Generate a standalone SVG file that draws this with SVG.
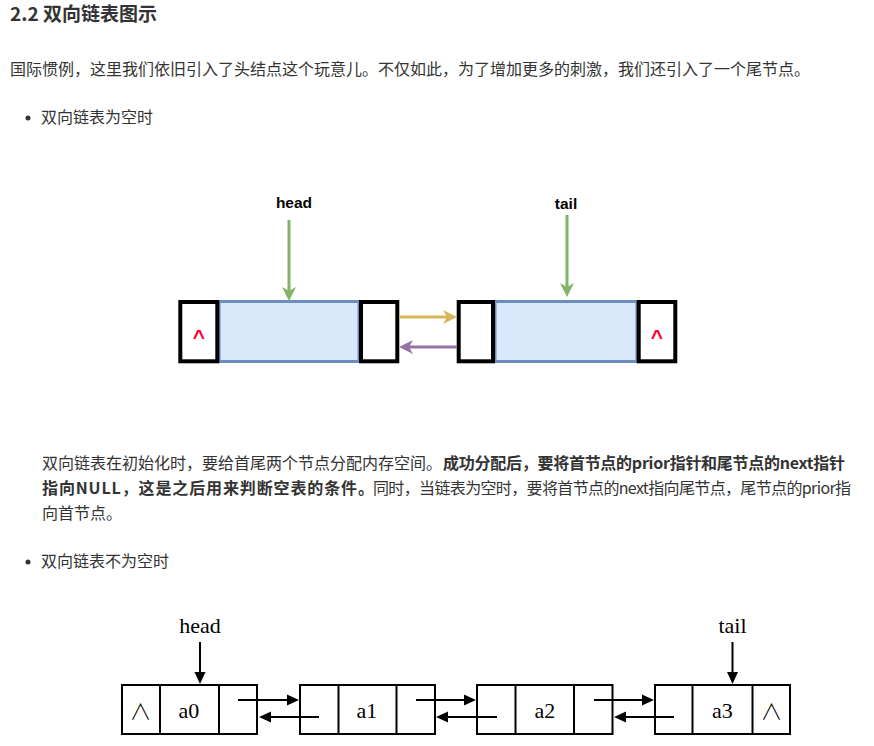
<svg xmlns="http://www.w3.org/2000/svg" width="874" height="746" viewBox="0 0 874 746">
<style>
.t{font-family:"Noto Sans CJK SC","Microsoft YaHei",sans-serif;font-size:16px;fill:#333}
.b{font-weight:bold}
.lbl{font-family:"Liberation Sans",Arial,sans-serif;font-weight:bold;font-size:15.5px;fill:#000;text-anchor:middle}
.caret{font-family:"Liberation Sans",Arial,sans-serif;font-weight:bold;font-size:21px;fill:#ff0033;text-anchor:middle}
.box{fill:#fff;stroke:#000;stroke-width:4}
.mid{fill:#dae8fc;stroke:#6c8ebf;stroke-width:3}
.n2{fill:#fff;stroke:#000;stroke-width:2}
.dv{stroke:#000;stroke-width:2}
.ser{font-family:"Liberation Serif","Times New Roman",serif;font-size:22px;fill:#000;text-anchor:middle}
.and{font-family:"Noto Sans CJK SC",serif;font-weight:300;font-size:22px;fill:#000;text-anchor:middle}
.bk{stroke:#000;stroke-width:2;fill:none}
</style>
<defs>
<marker id="mg" markerUnits="userSpaceOnUse" viewBox="0 0 14 14" markerWidth="14" markerHeight="14" refX="4" refY="7" orient="auto"><path d="M0,0 L14,7 L0,14 L4,7 z" fill="#82b366"/></marker>
<marker id="my" markerUnits="userSpaceOnUse" viewBox="0 0 14 14" markerWidth="14" markerHeight="14" refX="4" refY="7" orient="auto"><path d="M0,0 L14,7 L0,14 L4,7 z" fill="#d6b656"/></marker>
<marker id="mp" markerUnits="userSpaceOnUse" viewBox="0 0 14 14" markerWidth="14" markerHeight="14" refX="4" refY="7" orient="auto"><path d="M0,0 L14,7 L0,14 L4,7 z" fill="#9673a6"/></marker>
<marker id="mb" markerUnits="userSpaceOnUse" viewBox="0 0 12 12" markerWidth="12" markerHeight="12" refX="0" refY="6" orient="auto"><path d="M0,0.5 L12,6 L0,11.5 z" fill="#000"/></marker>
</defs>

<g id="text">
<text class="t b" x="10" y="20.5" style="font-size:19px">2.2 双向链表图示</text>
<text class="t" x="10" y="75">国际惯例，这里我们依旧引入了头结点这个玩意儿。不仅如此，为了增加更多的刺激，我们还引入了一个尾节点。</text>
<circle cx="28" cy="118" r="2.5" fill="#333"/>
<text class="t" x="41" y="123">双向链表为空时</text>
<text class="t" x="42" y="468.5">双向链表在初始化时，要给首尾两个节点分配内存空间。</text>
<text class="t b" x="443" y="468.5" textLength="402">成功分配后，要将首节点的prior指针和尾节点的next指针</text>
<text class="t b" x="42" y="493.5" textLength="332">指向NULL，这是之后用来判断空表的条件。</text>
<text class="t" x="373" y="493.5" textLength="478">同时，当链表为空时，要将首节点的next指向尾节点，尾节点的prior指</text>
<text class="t" x="42" y="518.5">向首节点。</text>
<circle cx="28" cy="562" r="2.5" fill="#333"/>
<text class="t" x="41" y="567">双向链表不为空时</text>
</g>

<g id="empty-head-node">
<rect class="mid" x="219" y="301.5" width="140" height="60"/>
<rect class="box" x="180.3" y="302" width="37" height="59.3"/>
<rect class="box" x="361" y="302" width="36.3" height="59.3"/>
<text class="caret" x="199" y="344">^</text>
</g>
<g id="empty-tail-node">
<rect class="mid" x="495" y="301.5" width="142" height="60"/>
<rect class="box" x="458.7" y="302" width="34.3" height="59.3"/>
<rect class="box" x="638.7" y="302" width="36.6" height="59.3"/>
<text class="caret" x="657" y="344">^</text>
</g>
<g id="empty-head-label"><text class="lbl" x="294" y="208">head</text></g>
<g id="empty-tail-label"><text class="lbl" x="566" y="209">tail</text></g>

<g id="empty-connectors" fill="none" stroke-width="3">
<line x1="289" y1="220" x2="289" y2="291" stroke="#82b366" marker-end="url(#mg)"/>
<line x1="567" y1="215" x2="567" y2="287" stroke="#82b366" marker-end="url(#mg)"/>
<line x1="399" y1="317" x2="447" y2="317" stroke="#d6b656" marker-end="url(#my)"/>
<line x1="457" y1="347" x2="409" y2="347" stroke="#9673a6" marker-end="url(#mp)"/>
</g>

<g id="node-a0">
<rect class="n2" x="122" y="685" width="135" height="49"/>
<line class="dv" x1="160" y1="685" x2="160" y2="734"/>
<line class="dv" x1="219" y1="685" x2="219" y2="734"/>
<text class="and" x="140.5" y="719">∧</text>
<text class="ser" x="189" y="717.5">a0</text>
</g>
<g id="node-a1">
<rect class="n2" x="300" y="685" width="135" height="49"/>
<line class="dv" x1="338.5" y1="685" x2="338.5" y2="734"/>
<line class="dv" x1="396.5" y1="685" x2="396.5" y2="734"/>
<text class="ser" x="367" y="717.5">a1</text>
</g>
<g id="node-a2">
<rect class="n2" x="477" y="685" width="135.5" height="49"/>
<line class="dv" x1="515.5" y1="685" x2="515.5" y2="734"/>
<line class="dv" x1="574" y1="685" x2="574" y2="734"/>
<text class="ser" x="545" y="717.5">a2</text>
</g>
<g id="node-a3">
<rect class="n2" x="655" y="685" width="135" height="49"/>
<line class="dv" x1="692.5" y1="685" x2="692.5" y2="734"/>
<line class="dv" x1="752.5" y1="685" x2="752.5" y2="734"/>
<text class="ser" x="722.5" y="717.5">a3</text>
<text class="and" x="771.5" y="719">∧</text>
</g>
<g id="head-label"><text class="ser" x="200" y="633">head</text></g>
<g id="tail-label"><text class="ser" x="732.5" y="633">tail</text></g>

<g id="connectors">
<line class="bk" x1="200" y1="642" x2="200" y2="672" marker-end="url(#mb)"/>
<line class="bk" x1="732.5" y1="642" x2="732.5" y2="672" marker-end="url(#mb)"/>
<line class="bk" x1="238" y1="700" x2="287" y2="700" marker-end="url(#mb)"/>
<line class="bk" x1="319" y1="717" x2="271" y2="717" marker-end="url(#mb)"/>
<line class="bk" x1="416" y1="700" x2="464" y2="700" marker-end="url(#mb)"/>
<line class="bk" x1="497" y1="717" x2="448" y2="717" marker-end="url(#mb)"/>
<line class="bk" x1="594" y1="700" x2="642" y2="700" marker-end="url(#mb)"/>
<line class="bk" x1="674" y1="717" x2="626" y2="717" marker-end="url(#mb)"/>
</g>
</svg>
